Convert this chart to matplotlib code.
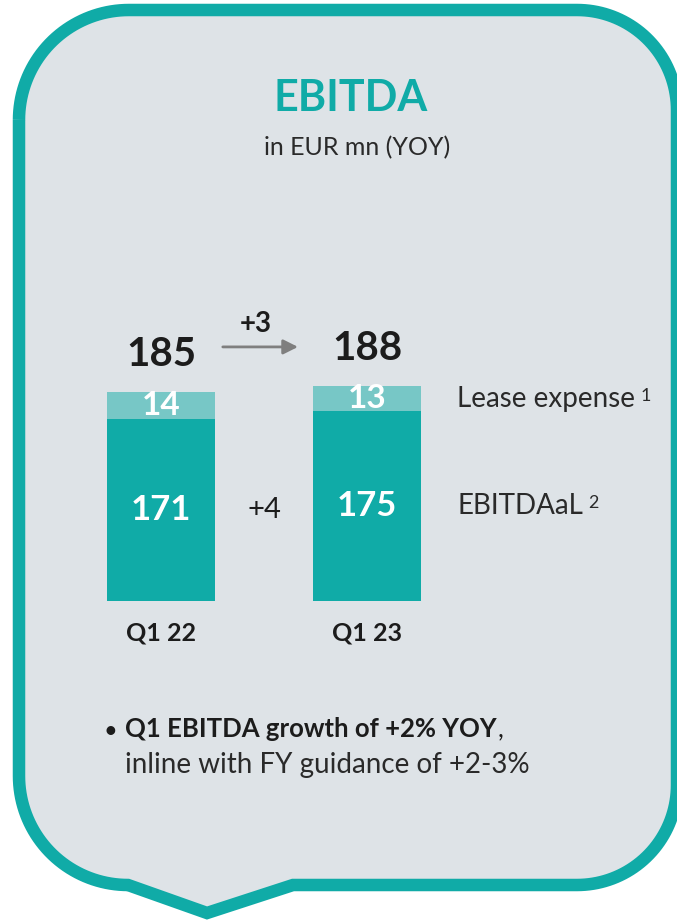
import numpy as np
import matplotlib
matplotlib.use("Agg")
import matplotlib.pyplot as plt
from matplotlib.patches import Polygon

plt.rcParams["font.family"] = ["Lato", "DejaVu Sans"]

# data
quarters = ["Q1 22", "Q1 23"]
ebitdaal = [171, 175]
lease = [14, 13]
totals = [185, 188]
growth_total = "+3"
growth_ebitdaal = "+4"
series_names = ["Lease expense", "EBITDAaL"]
footnotes = ["1", "2"]

TEAL = "#10aba7"
LIGHT_TEAL = "#77c7c6"
PANEL = "#dee3e7"
INK = "#1c1c1c"
ARROW = "#7f7f7f"

W, H = 677, 921
fig = plt.figure(figsize=(W / 100, H / 100), dpi=100)
fig.patch.set_facecolor("white")

# background axes in pixel units (y down)
bg = fig.add_axes([0, 0, 1, 1])
bg.set_xlim(0, W)
bg.set_ylim(H, 0)
bg.axis("off")


def arc(cx, cy, r, a0, a1, n=40):
    t = np.radians(np.linspace(a0, a1, n))
    return list(zip(cx + r * np.cos(t), cy + r * np.sin(t)))


L, R, T, B = 19, 677, 10, 885
r_tl, r_tr, r_br, r_bl = 110, 100, 100, 109
pts = [(L + r_tl, T), (R - r_tr, T)]
pts += arc(R - r_tr, T + r_tr, r_tr, -90, 0)
pts += [(R, B - r_br)]
pts += arc(R - r_br, B - r_br, r_br, 0, 90)
pts += [(293, B), (207, 913), (L + r_bl, B)]
pts += arc(L + r_bl, B - r_bl, r_bl, 90, 180)
pts += [(L, T + r_tl)]
pts += arc(L + r_tl, T + r_tl, r_tl, 180, 270)
bg.add_patch(Polygon(pts, closed=True, facecolor=PANEL, edgecolor=TEAL,
                     lw=9, joinstyle="miter"))

# headline
bg.text(351, 98, "EBITDA", ha="center", va="center", fontsize=31,
        fontweight="bold", color=TEAL)
bg.text(357, 148, "in EUR mn (YOY)", ha="center", va="center", fontsize=18,
        color="#2a2a2a")

# bullet
bg.text(110, 731, "\u2022", ha="center", va="center", fontsize=17, color=INK)
b1 = bg.text(125, 737, "Q1 EBITDA growth of +2% YOY", ha="left",
             va="baseline", fontsize=18.5, fontweight="bold", color=INK)
bg.annotate(",", xy=(1, 0), xycoords=b1, xytext=(1, 0),
            textcoords="offset points", ha="left", va="bottom",
            fontsize=18.5, color=INK)
bg.text(125, 773, "inline with FY guidance of +2-3%", ha="left",
        va="baseline", fontsize=20, color="#2a2a2a")

# bar chart axes (truncated value axis, like the slide)
px_unit_x = 206
px_unit_y = 1.95
ax_l, ax_r, ax_t, ax_b = 50, 480, 290, 601
v0 = 77.7
ax = fig.add_axes([ax_l / W, (H - ax_b) / H, (ax_r - ax_l) / W,
                   (ax_b - ax_t) / H])
ax.set_facecolor("none")
ax.set_xlim(-(161 - ax_l) / px_unit_x, -(161 - ax_l) / px_unit_x + (ax_r - ax_l) / px_unit_x)
ax.set_ylim(v0, v0 + (ax_b - ax_t) / px_unit_y)
for s in ax.spines.values():
    s.set_visible(False)
ax.set_yticks([])

x = np.arange(len(quarters))
width = 108 / px_unit_x
ax.bar(x, ebitdaal, width, color=TEAL)
ax.bar(x, lease, width, bottom=ebitdaal, color=LIGHT_TEAL)

ax.set_xticks(x)
ax.set_xticklabels(quarters, fontsize=18, fontweight="bold", color=INK)
ax.tick_params(axis="x", length=0, pad=15)

for i in range(len(quarters)):
    lo = max(v0, 0)
    ax.text(x[i], (lo + ebitdaal[i]) / 2, str(ebitdaal[i]), ha="center",
            va="center", fontsize=25, fontweight="bold", color="white")
    ax.text(x[i], ebitdaal[i] + lease[i] / 2, str(lease[i]), ha="center",
            va="center", fontsize=24, fontweight="bold", color="white")
    ax.text(x[i], totals[i] + 19, str(totals[i]), ha="center", va="center",
            fontsize=29, fontweight="bold", color=INK)

# growth markers
ya = totals[0] + 23
ax.annotate("", xy=(0.665, ya), xytext=(0.30, ya),
            arrowprops=dict(arrowstyle="-|>", color=ARROW, lw=2,
                            mutation_scale=22, shrinkA=0, shrinkB=0))
ax.text(0.46, ya + 12, growth_total, ha="center", va="center", fontsize=20,
        fontweight="bold", color=INK)
ax.text(0.5, (max(v0, 0) + ebitdaal[0]) / 2, growth_ebitdaal, ha="center",
        va="center", fontsize=21, color=INK)

# series labels to the right
xl = (457 - 161) / px_unit_x
label_y = [ebitdaal[-1] + lease[-1] / 2, (v0 + ebitdaal[-1]) / 2]
for name, note, yy in zip(series_names, footnotes, label_y):
    t = ax.text(xl, yy, name, ha="left", va="center", fontsize=20,
                color="#2a2a2a")
    ax.annotate(note, xy=(1, 0.92), xycoords=t, xytext=(4, 0),
                textcoords="offset points", ha="left", va="top",
                fontsize=13, color="#2a2a2a")

fig.savefig("out.png", dpi=100, facecolor="white")
